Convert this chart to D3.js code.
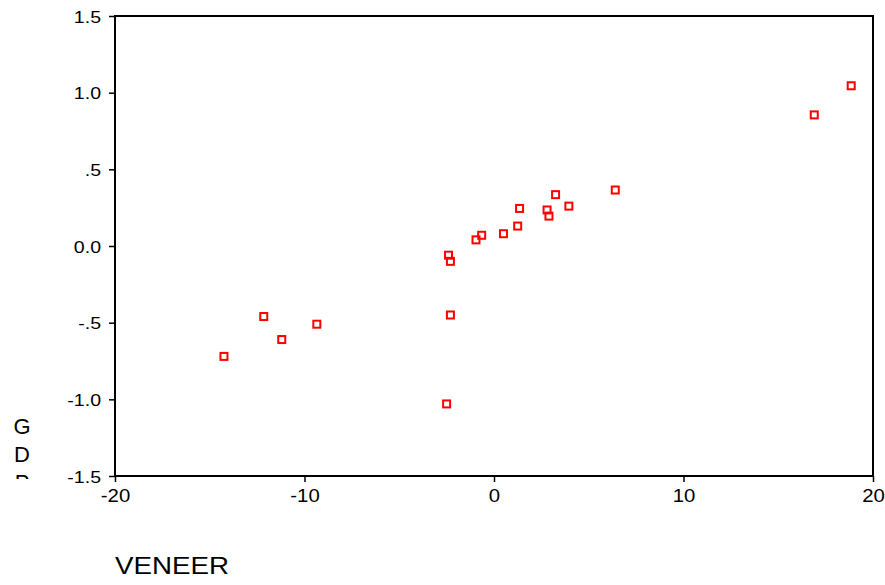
<!DOCTYPE html>
<html>
<head>
<meta charset="utf-8">
<script src="https://cdn.jsdelivr.net/npm/d3@7"></script>
<style>
  html, body { margin: 0; padding: 0; background: #fff; }
  svg text { font-family: "Liberation Sans", Arial, sans-serif; fill: #000; }
</style>
</head>
<body>
<svg id="chart" width="885" height="585"></svg>
<script>
// VENEER vs GDP observations
const veneer = [-14.25, -12.15, -11.2, -9.35, -2.5, -2.4, -2.3, -2.3, -0.95, -0.65, 0.5, 1.25, 1.35, 2.8, 2.9, 3.25, 3.95, 6.4, 16.9, 18.85];
const gdp    = [-0.72, -0.46, -0.61, -0.51, -1.03, -0.06, -0.10, -0.45, 0.04, 0.07, 0.08, 0.13, 0.245, 0.235, 0.195, 0.335, 0.26, 0.365, 0.855, 1.045];

const xTicks = [-20, -10, 0, 10, 20];
const yTicks = [-1.5, -1.0, -0.5, 0.0, 0.5, 1.0, 1.5];
const yTickLabels = ["-1.5", "-1.0", "-.5", "0.0", ".5", "1.0", "1.5"];
const yLabelLetters = ["G", "D", "P"];
const xLabel = "VENEER";

const svg = d3.select("#chart");

const plotL = 115, plotR = 873, plotT = 16, plotB = 476;
const x = d3.scaleLinear().domain([-20, 20]).range([plotL, plotR]);
const y = d3.scaleLinear().domain([-1.5, 1.5]).range([plotB, plotT]);

// frame
svg.append("rect")
  .attr("x", plotL).attr("y", plotT)
  .attr("width", plotR - plotL).attr("height", plotB - plotT)
  .attr("fill", "none").attr("stroke", "#000").attr("stroke-width", 2);

// y axis
const yAxis = d3.axisLeft(y)
  .tickValues(yTicks)
  .tickSize(6)
  .tickPadding(0)
  .tickFormat((d, i) => yTickLabels[i]);
const gy = svg.append("g").attr("transform", `translate(${plotL},0)`).call(yAxis);
gy.select(".domain").remove();
gy.selectAll(".tick line").attr("stroke", "#000").attr("stroke-width", 1.5);
gy.selectAll(".tick text")
  .attr("font-size", 17)
  .attr("x", -14 / 1.15)
  .attr("dy", "0.36em")
  .attr("transform", "scale(1.15,1)")
  .style("font-family", "Liberation Sans, Arial, sans-serif");

// x axis
const xAxis = d3.axisBottom(x)
  .tickValues(xTicks)
  .tickSize(6)
  .tickPadding(0)
  .tickFormat(d => String(d));
const gx = svg.append("g").attr("transform", `translate(0,${plotB})`).call(xAxis);
gx.select(".domain").remove();
gx.selectAll(".tick line").attr("stroke", "#000").attr("stroke-width", 1.5);
gx.selectAll(".tick text")
  .attr("font-size", 18.5)
  .attr("x", 0)
  .attr("y", 26)
  .attr("dy", 0)
  .attr("transform", "scale(1.1,1)")
  .style("font-family", "Liberation Sans, Arial, sans-serif");

// markers
svg.append("g").selectAll("rect")
  .data(veneer.map((v, i) => [v, gdp[i]]))
  .join("rect")
  .attr("x", d => x(d[0]) - 3.5)
  .attr("y", d => y(d[1]) - 3.5)
  .attr("width", 7).attr("height", 7)
  .attr("fill", "none")
  .attr("stroke", "#ff0000")
  .attr("stroke-width", 2);

// vertical stacked y label, cut off at the bottom
svg.append("clipPath").attr("id", "ylabclip")
  .append("rect").attr("x", 0).attr("y", 0).attr("width", 60).attr("height", 479);
svg.append("g").attr("clip-path", "url(#ylabclip)")
  .selectAll("text")
  .data(yLabelLetters)
  .join("text")
  .attr("x", 22)
  .attr("y", (d, i) => 434 + i * 28)
  .attr("text-anchor", "middle")
  .attr("font-size", 22)
  .text(d => d);

// x label
svg.append("text")
  .attr("transform", "translate(115,574) scale(1.18,1)")
  .attr("font-size", 23.5)
  .text(xLabel);
</script>
</body>
</html>
